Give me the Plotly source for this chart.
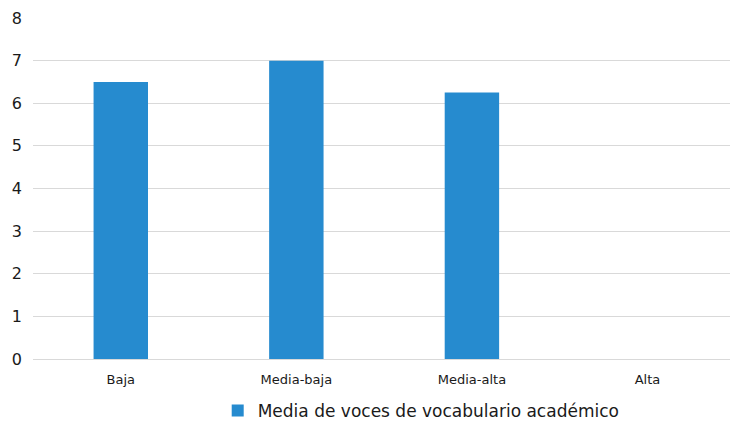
import plotly.graph_objects as go

categories = ["Baja", "Media-baja", "Media-alta", "Alta"]
values = [6.5, 7.0, 6.25, 0]
series_name = "Media de voces de vocabulario académico"
y_ticks = [0, 1, 2, 3, 4, 5, 6, 7, 8]

fig = go.Figure()
fig.add_trace(go.Bar(
    x=categories,
    y=values,
    name=series_name,
    marker=dict(color="#268BCF", line=dict(width=0)),
    width=0.31,
    showlegend=True,
))

fig.update_layout(
    width=730,
    height=424,
    margin=dict(l=33, r=0, t=18, b=65, autoexpand=False),
    paper_bgcolor="white",
    plot_bgcolor="white",
    font=dict(family="DejaVu Sans, Liberation Sans, sans-serif", color="#1a1a1a"),
    legend=dict(
        orientation="h",
        x=0.265,
        xanchor="left",
        y=-0.152,
        yanchor="middle",
        font=dict(size=17, color="#1a1a1a"),
        bgcolor="rgba(0,0,0,0)",
    ),
)
fig.update_xaxes(
    range=[-0.5, 3.47],
    showgrid=False,
    showline=True,
    linecolor="#d9d9d9",
    linewidth=1,
    ticks="",
    ticklabelstandoff=8,
    tickfont=dict(size=13, color="#1a1a1a"),
)
fig.update_yaxes(
    range=[0, 8],
    tickvals=y_ticks,
    showgrid=True,
    gridcolor="#d9d9d9",
    gridwidth=1,
    zeroline=False,
    showline=False,
    ticks="",
    ticklabelstandoff=10,
    tickfont=dict(size=16, color="#1a1a1a"),
)

fig.write_html("out.html")
